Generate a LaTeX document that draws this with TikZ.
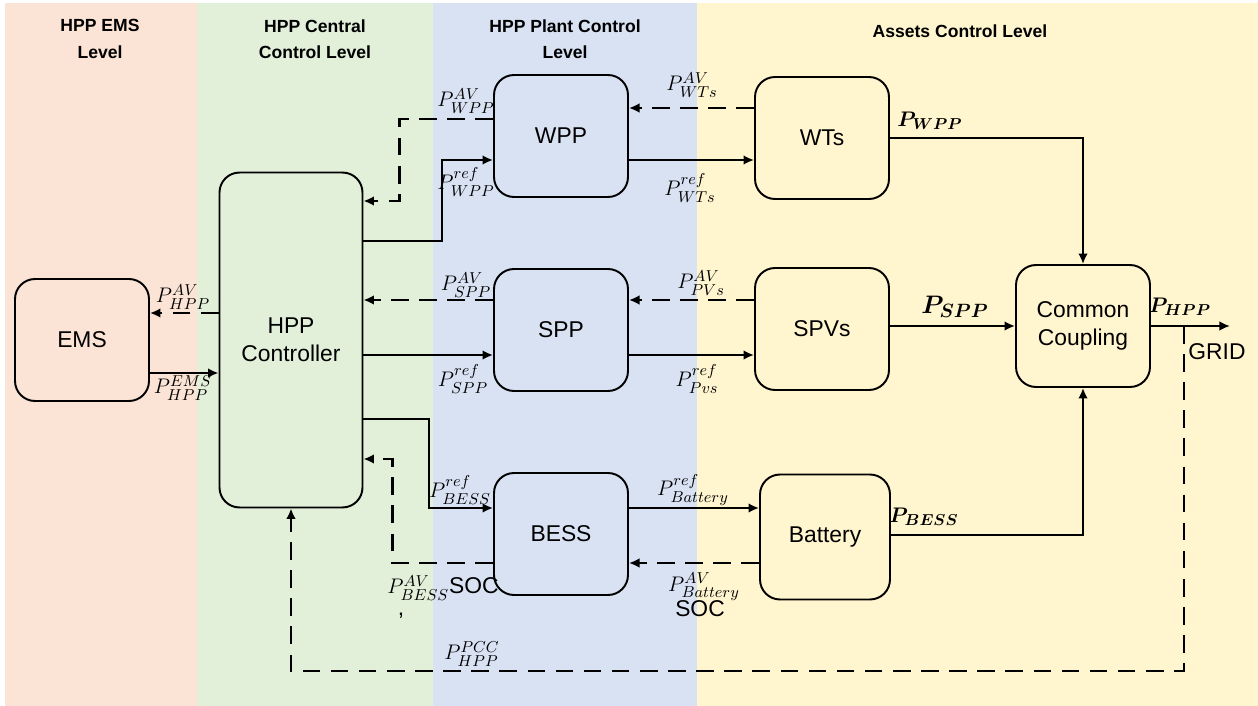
\documentclass[tikz,border=0pt]{standalone}
\usepackage{fontspec}
\setmainfont{Liberation Sans}
\usepackage{amsmath}
\DeclareMathSizes{13}{13}{9.5}{7}
\DeclareMathSizes{15}{15}{11}{8}
\usetikzlibrary{arrows.meta,calc}
\definecolor{emsbg}{RGB}{251,228,214}
\definecolor{centralbg}{RGB}{226,239,217}
\definecolor{plantbg}{RGB}{217,226,243}
\definecolor{assetbg}{RGB}{255,245,206}
\begin{document}
\begin{tikzpicture}[x=0.02cm, y=-0.02cm,
  blk/.style={draw, line width=1.1pt, rounded corners=0.4cm, minimum width=2.68cm, minimum height=2.44cm, align=center, font=\fontsize{13}{16}\selectfont},
  sig/.style={line width=1.4pt, -{Latex[length=6pt,width=5.5pt]}},
  fb/.style={sig, dash pattern=on 10pt off 6pt},
  lbl/.style={inner sep=0pt, font=\fontsize{13}{14}\selectfont},
  hdr/.style={align=center, font=\fontsize{10}{15}\selectfont\bfseries}]
\useasboundingbox (0,0) rectangle (1258,706);
% levels
\fill[emsbg] (5,3) rectangle (197,706);
\fill[centralbg] (197,3) rectangle (433,706);
\fill[plantbg] (433,3) rectangle (697,706);
\fill[assetbg] (697,3) rectangle (1258,706);
\node[hdr] (hems) at (100,39) {HPP EMS\\Level};
\node[hdr] (hcen) at (315,39) {HPP Central\\Control Level};
\node[hdr] (hpla) at (565,39) {HPP Plant Control\\Level};
\node[hdr] (hass) at (960,31) {Assets Control Level};
% blocks
\node[blk] (ems) at (82,340) {EMS};
\node[blk, minimum width=2.86cm, minimum height=6.7cm] (ctrl) at (291,340) {HPP\\Controller};
\node[blk] (wpp) at (561,136) {WPP};
\node[blk] (spp) at (561,330) {SPP};
\node[blk] (bess) at (561,534) {BESS};
\node[blk] (wts) at (822,138) {WTs};
\node[blk] (spvs) at (822,329) {SPVs};
\node[blk, minimum width=2.6cm, minimum height=2.5cm] (batt) at (825,537) {Battery};
\node[blk] (cc) at (1083,326) {Common\\Coupling};
\coordinate (grid) at (1230,326);
\coordinate (tap) at (1184,326);
% wind
\draw[sig] ($(ctrl.east)+(0,-99)$) -| ($(wpp.west)+(-51,24)$) -- ($(wpp.west)+(0,24)$);
\draw[fb] ($(wpp.west)+(0,-17)$) -| ($(ctrl.east)+(36,-139)$) -- ($(ctrl.east)+(0,-139)$);
\draw[fb] ($(wts.west)+(0,-30)$) -- ($(wpp.east)+(0,-28)$);
\draw[sig] ($(wpp.east)+(0,24)$) -- ($(wts.west)+(0,22)$);
% solar
\draw[fb] ($(spp.west)+(0,-30)$) -- ($(ctrl.east)+(0,-40)$);
\draw[sig] ($(ctrl.east)+(0,15)$) -- ($(spp.west)+(0,25)$);
\draw[fb] ($(spvs.west)+(0,-29)$) -- ($(spp.east)+(0,-30)$);
\draw[sig] ($(spp.east)+(0,25)$) -- ($(spvs.west)+(0,26)$);
% storage
\draw[sig] ($(ctrl.east)+(0,79)$) -| ($(bess.west)+(-64,-26)$) -- ($(bess.west)+(0,-26)$);
\draw[fb] ($(bess.west)+(0,29)$) -| ($(ctrl.east)+(29,119)$) -- ($(ctrl.east)+(0,119)$);
\draw[sig] ($(bess.east)+(0,-26)$) -- ($(batt.west)+(0,-29)$);
\draw[fb] ($(batt.west)+(0,26)$) -- ($(bess.east)+(0,29)$);
% ems
\draw[fb] ($(ctrl.west)+(0,-27)$) -- ($(ems.east)+(0,-27)$);
\draw[sig] ($(ems.east)+(0,33)$) -- ($(ctrl.west)+(0,33)$);
% coupling
\draw[sig] (wts.east) -| (cc.north);
\draw[sig] ($(spvs.east)+(0,-3)$) -- (cc.west);
\draw[sig] ($(batt.east)+(0,-2)$) -| (cc.south);
\draw[sig] (cc.east) -- (grid);
\draw[fb] (tap) -- ++(0,345) -| (ctrl.south);
% labels
\node[lbl] (lwppav) at (466,101) {$P^{AV}_{WPP}$};
\node[lbl] (lwppref) at (466,182) {$P^{ref}_{WPP}$};
\node[lbl] (lwtsav) at (692,85) {$P^{AV}_{WTs}$};
\node[lbl] (lwtsref) at (690,188) {$P^{ref}_{WTs}$};
\node[lbl] (lsppav) at (466,285) {$P^{AV}_{SPP}$};
\node[lbl] (lsppref) at (463,379) {$P^{ref}_{SPP}$};
\node[lbl] (lpvsav) at (701,283) {$P^{AV}_{PVs}$};
\node[lbl] (lpvsref) at (697,379) {$P^{ref}_{Pvs}$};
\node[lbl] (lbessref) at (460,490) {$P^{ref}_{BESS}$};
\node[lbl] (lbattref) at (693,490) {$P^{ref}_{Battery}$};
\node[lbl] (lbessav) at (443,588) {$P^{AV}_{BESS}$SOC};
\node[lbl] (lcomma) at (401,616) {,};
\node[lbl] (lbattav) at (704,587) {$P^{AV}_{Battery}$};
\node[lbl] (lsoc) at (700,609) {SOC};
\node[lbl] (lpcc) at (472,654) {$P^{PCC}_{HPP}$};
\node[lbl] (lhppav) at (183,297) {$P^{AV}_{HPP}$};
\node[lbl] (lhppems) at (183,388) {$P^{EMS}_{HPP}$};
\node[lbl] (pwpp) at (930,121) {$\boldsymbol{P_{WPP}}$};
\node[lbl, font=\fontsize{15}{16}\selectfont] (pspp) at (955,307) {$\boldsymbol{P_{SPP}}$};
\node[lbl] (pbess) at (924,517) {$\boldsymbol{P_{BESS}}$};
\node[lbl] (phpp) at (1180,307) {$\boldsymbol{P_{HPP}}$};
\node[lbl] (lgrid) at (1217,352) {GRID};
\end{tikzpicture}
\end{document}
